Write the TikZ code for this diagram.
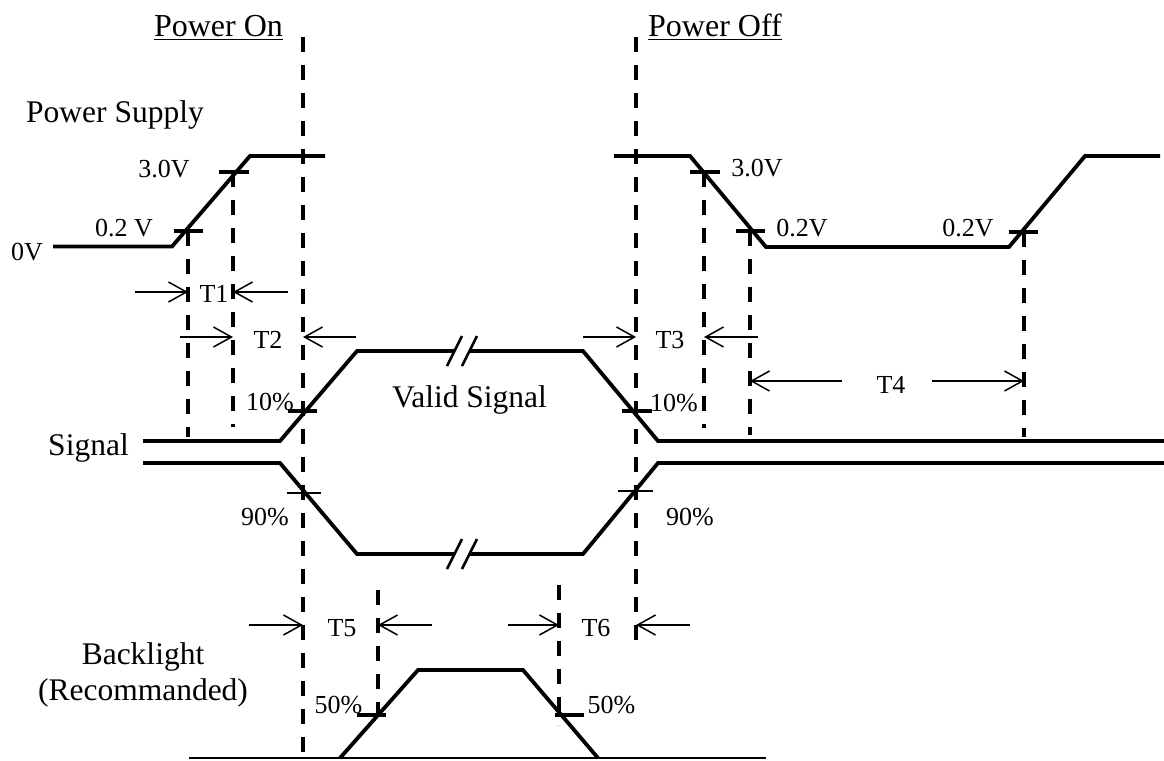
\documentclass[tikz,border=0pt]{standalone}
\usepackage{fontspec}
\setmainfont{Liberation Serif}
\usetikzlibrary{arrows.meta}
\begin{document}
\begin{tikzpicture}[x=1pt,y=-1pt,
  wave/.style={line width=3.8pt},
  tickmark/.style={line width=3.8pt},
  thintick/.style={line width=1.6pt},
  guide/.style={line width=4.2pt, dash pattern=on 15pt off 13pt},
  dim/.style={line width=1.5pt, -{Straight Barb[length=18pt,width=20pt]}},
  base/.style={line width=2pt},
  brk/.style={line width=2.6pt},
  bigtxt/.style={font=\fontsize{31.5}{36}\selectfont, inner sep=0pt, anchor=base},
  titletxt/.style={font=\fontsize{32}{38}\selectfont, inner sep=0pt, anchor=base},
  smalltxt/.style={font=\fontsize{26}{30}\selectfont, inner sep=0pt, anchor=base},
  uline/.style={line width=1.5pt}]
\useasboundingbox (0,0) rectangle (1164,760);

% ---------- titles ----------
\node[titletxt] (pon) at (218.5,37) {Power On};
\draw[uline] ([yshift=-2.5pt]pon.base west) -- ([yshift=-2.5pt]pon.base east);
\node[titletxt] (poff) at (715,37) {Power Off};
\draw[uline] ([yshift=-2.5pt]poff.base west) -- ([yshift=-2.5pt]poff.base east);

% ---------- row labels ----------
\node[bigtxt] (ps) at (115,122) {Power Supply};
\node[bigtxt] (sig) at (88.5,455) {Signal};
\node[bigtxt] (bl) at (143,664) {Backlight};
\node[bigtxt] (rec) at (143,700) {(Recommanded)};
\node[bigtxt] (valid) at (469.5,407) {Valid Signal};

% ---------- dashed guides ----------
\draw[guide] (188,231) -- (188,437);
\draw[guide] (233,172) -- (233,427);
\draw[guide] (303,37) -- (303,752);
\draw[guide] (636,37) -- (636,642);
\draw[guide] (704,172) -- (704,428);
\draw[guide] (750,231) -- (750,435);
\draw[guide] (1024,232) -- (1024,437);
\draw[guide] (378,590) -- (378,725);
\draw[guide] (559,585) -- (559,725);

% ---------- power supply ----------
\draw[wave] (53,246.5) -- (172,246.5) -- (250,156) -- (325,156);
\draw[wave] (614,156) -- (690,156) -- (766,247) -- (1009,247) -- (1085,156) -- (1160,156);
\draw[tickmark] (174,231) -- (203,231);
\draw[tickmark] (219,172) -- (249,172);
\draw[tickmark] (690,172) -- (720,172);
\draw[tickmark] (736,231) -- (765,231);
\draw[tickmark] (1009,232) -- (1038,232);
\node[smalltxt] (v0) at (27,260) {0V};
\node[smalltxt] (v02a) at (124,236) {0.2 V};
\node[smalltxt] (v30a) at (164,177) {3.0V};
\node[smalltxt] (v30b) at (757,176) {3.0V};
\node[smalltxt] (v02b) at (802,236) {0.2V};
\node[smalltxt] (v02c) at (968,236) {0.2V};

% ---------- signal ----------
\draw[wave] (143,441) -- (280,441) -- (357,351) -- (454.5,351);
\draw[wave] (469.5,351) -- (583,351) -- (658,441) -- (1164,441);
\draw[wave] (143,463) -- (280,463) -- (357,554) -- (454.5,554);
\draw[wave] (469.5,554) -- (583,554) -- (658,463) -- (1164,463);
% break marks
\draw[brk] (447,366) -- (462,336);
\draw[brk] (462,366) -- (477,336);
\draw[brk] (447,569) -- (462,539);
\draw[brk] (462,569) -- (477,539);
% ticks
\draw[tickmark] (288,411) -- (317,411);
\draw[tickmark] (622,411) -- (652,411);
\draw[thintick] (287,493) -- (321,493);
\draw[thintick] (618,491) -- (653,491);
\node[smalltxt] (p10a) at (270,410) {10\%};
\node[smalltxt] (p10b) at (674,411) {10\%};
\node[smalltxt] (p90a) at (265,525) {90\%};
\node[smalltxt] (p90b) at (690,525) {90\%};

% ---------- backlight ----------
\draw[base] (189,758) -- (766,758);
\draw[wave] (340,758) -- (418,670) -- (523,670) -- (598,758);
\draw[tickmark] (357,715) -- (386,715);
\draw[tickmark] (555,715) -- (584,715);
\node[smalltxt] (p50a) at (338.5,713) {50\%};
\node[smalltxt] (p50b) at (611.5,713) {50\%};

% ---------- timing arrows ----------
\draw[dim] (135,292) -- (188,292);
\draw[dim] (288,292) -- (233,292);
\node[smalltxt] (t1) at (214,302) {T1};
\draw[dim] (180,337) -- (233,337);
\draw[dim] (356,337) -- (303,337);
\node[smalltxt] (t2) at (268,348) {T2};
\draw[dim] (583,337) -- (636,337);
\draw[dim] (758,337) -- (704,337);
\node[smalltxt] (t3) at (670,348) {T3};
\draw[dim] (842,381) -- (750,381);
\draw[dim] (932,381) -- (1024,381);
\node[smalltxt] (t4) at (891,393) {T4};
\draw[dim] (249,625) -- (303,625);
\draw[dim] (432,625) -- (378,625);
\node[smalltxt] (t5) at (342,636) {T5};
\draw[dim] (508,625) -- (559,625);
\draw[dim] (690,625) -- (636,625);
\node[smalltxt] (t6) at (596,636) {T6};
\end{tikzpicture}
\end{document}
